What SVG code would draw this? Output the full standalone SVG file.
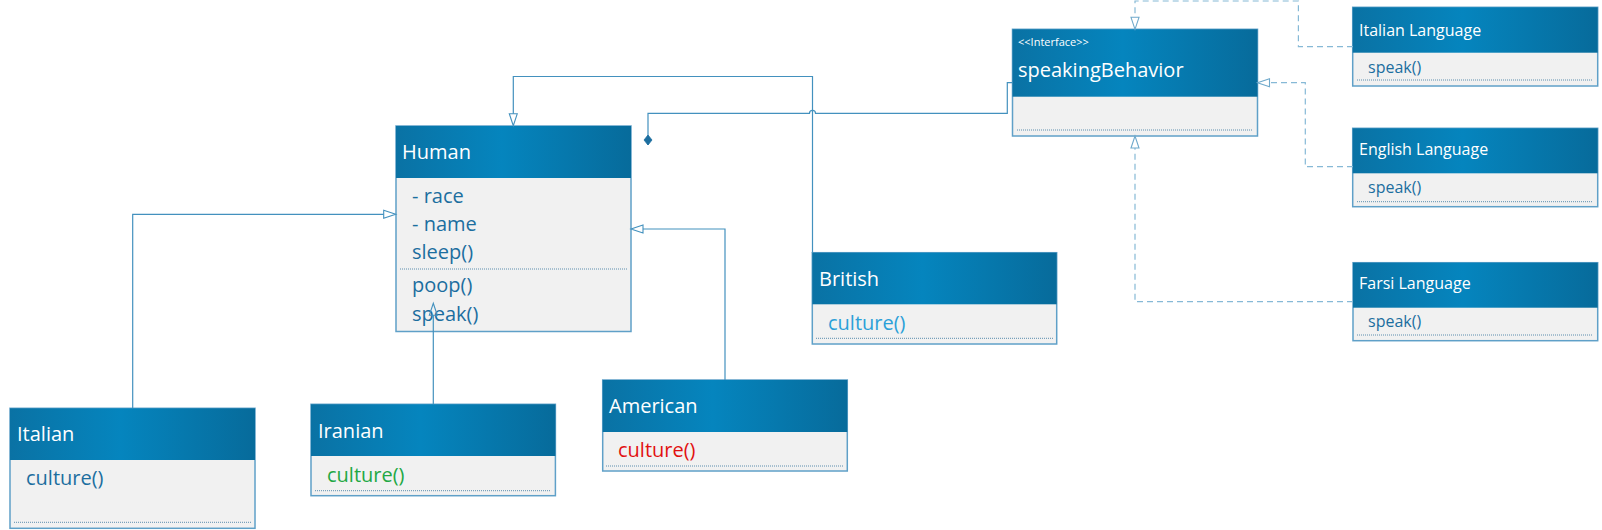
<svg xmlns="http://www.w3.org/2000/svg" width="1602" height="530" viewBox="0 0 1602 530">
<defs>
<linearGradient id="hdr" x1="0" y1="0" x2="1" y2="0">
<stop offset="0" stop-color="#0A72A4"/>
<stop offset="0.45" stop-color="#0585BE"/>
<stop offset="1" stop-color="#076B9B"/>
</linearGradient>
<marker id="tri" markerUnits="userSpaceOnUse" markerWidth="14" markerHeight="10" refX="0" refY="4.5" orient="auto" overflow="visible">
<path d="M0,0.5 L12,4.5 L0,8.5 Z" fill="none" stroke="#4391BE" stroke-width="1.1" stroke-dasharray="none"/>
</marker>
<marker id="triD" markerUnits="userSpaceOnUse" markerWidth="14" markerHeight="10" refX="0" refY="4.5" orient="auto" overflow="visible">
<path d="M0,0.5 L12,4.5 L0,8.5 Z" fill="none" stroke="#6FA9CB" stroke-width="1.1" stroke-dasharray="none"/>
</marker>
<marker id="dia" markerUnits="userSpaceOnUse" markerWidth="12" markerHeight="10" refX="0" refY="4" orient="auto" overflow="visible">
<path d="M0,4 L5,0 L10,4 L5,8 Z" fill="#1C6E9F" stroke="#1C6E9F" stroke-width="0.8"/>
</marker>
</defs>
<style>
.body{fill:#F1F1F1;stroke:#5FA0C8;stroke-width:1.5}
.head{fill:url(#hdr)}
.sep{stroke:#5C8EAE;stroke-width:1;stroke-dasharray:1 1;fill:none}
.t{font-family:"Open Sans","Noto Sans","DejaVu Sans",sans-serif}
.name{font-size:20px;fill:#FFFFFF}
.small{font-size:16px;fill:#FFFFFF}
.stereo{font-size:11px;fill:#FFFFFF}
.m{font-size:20px;fill:#1C6E9F}
.ms{font-size:16px;fill:#1C6E9F}
.conn{fill:none;stroke:#4391BE;stroke-width:1.2}
.dash{fill:none;stroke:#86B9D6;stroke-width:1.2;stroke-dasharray:6 4}
</style>

<g id="human">
<rect class="body" x="396" y="126" width="235" height="205.5"/>
<rect class="head" x="396" y="126" width="235" height="52"/>
<text class="t name" x="402" y="159">Human</text>
<text class="t m" x="412" y="202.7">- race</text>
<text class="t m" x="412" y="230.7">- name</text>
<text class="t m" x="412" y="259">sleep()</text>
<line class="sep" x1="400" y1="269" x2="627" y2="269"/>
<text class="t m" x="412" y="292">poop()</text>
<text class="t m" x="412" y="320.7">speak()</text>
</g>

<g id="speakingBehavior">
<rect class="body" x="1012.5" y="29.3" width="245" height="106.7"/>
<rect class="head" x="1012.5" y="29.3" width="245" height="67.4"/>
<text class="t stereo" x="1018" y="46">&lt;&lt;Interface&gt;&gt;</text>
<text class="t name" x="1018" y="77">speakingBehavior</text>
<line class="sep" x1="1017" y1="130" x2="1253" y2="130"/>
</g>

<g id="british">
<rect class="body" x="812.3" y="252.7" width="244.4" height="91.3"/>
<rect class="head" x="812.3" y="252.7" width="244.4" height="51.6"/>
<text class="t name" x="819" y="286">British</text>
<text class="t m" x="828" y="330" style="fill:#2CA0D8">culture()</text>
<line class="sep" x1="816" y1="338.3" x2="1053" y2="338.3"/>
</g>

<g id="american">
<rect class="body" x="602.7" y="380" width="244.6" height="91"/>
<rect class="head" x="602.7" y="380" width="244.6" height="52"/>
<text class="t name" x="609" y="413">American</text>
<text class="t m" x="618" y="457" style="fill:#E21010">culture()</text>
<line class="sep" x1="606" y1="466" x2="843" y2="466"/>
</g>

<g id="iranian">
<rect class="body" x="311" y="404.3" width="244.4" height="91.4"/>
<rect class="head" x="311" y="404.3" width="244.4" height="51.7"/>
<text class="t name" x="318" y="438">Iranian</text>
<text class="t m" x="327" y="482" style="fill:#22A844">culture()</text>
<line class="sep" x1="315" y1="490.7" x2="551" y2="490.7"/>
</g>

<g id="italian">
<rect class="body" x="10" y="408.3" width="245" height="120"/>
<rect class="head" x="10" y="408.3" width="245" height="51.7"/>
<text class="t name" x="17" y="441">Italian</text>
<text class="t m" x="26" y="485">culture()</text>
<line class="sep" x1="14" y1="522.3" x2="251" y2="522.3"/>
</g>

<g id="italianLanguage">
<rect class="body" x="1352.7" y="7.3" width="245" height="78.7"/>
<rect class="head" x="1352.7" y="7.3" width="245" height="45.4"/>
<text class="t small" x="1359" y="36">Italian Language</text>
<text class="t ms" x="1368" y="72.5">speak()</text>
<line class="sep" x1="1357" y1="80" x2="1593" y2="80"/>
</g>

<g id="englishLanguage">
<rect class="body" x="1352.7" y="128.3" width="245" height="78.4"/>
<rect class="head" x="1352.7" y="128.3" width="245" height="45"/>
<text class="t small" x="1359" y="155">English Language</text>
<text class="t ms" x="1368" y="193.3">speak()</text>
<line class="sep" x1="1357" y1="201.7" x2="1593" y2="201.7"/>
</g>

<g id="farsiLanguage">
<rect class="body" x="1353" y="262.7" width="244.7" height="78"/>
<rect class="head" x="1353" y="262.7" width="244.7" height="45"/>
<text class="t small" x="1359" y="289">Farsi Language</text>
<text class="t ms" x="1368" y="327.3">speak()</text>
<line class="sep" x1="1357" y1="335" x2="1593" y2="335"/>
</g>

<g id="connectors">
<path class="conn" d="M812.5,253 V76.5 H513.3 V113.7" marker-end="url(#tri)"/>
<path class="conn" d="M132.7,408 V214.3 H383.7" marker-end="url(#tri)"/>
<path class="conn" d="M725,380 V229 H643" marker-end="url(#tri)"/>
<path class="conn" d="M433.3,404 V315.3" marker-end="url(#tri)"/>
<path class="conn" d="M648,145 V113.3 H809.5 A3,3 0 0 1 815.5,113.3 H1007.3 V82.7 H1012.5" marker-start="url(#dia)"/>
<path class="dash" d="M1353,46.7 H1298.4 V1 H1135 V17.3" marker-end="url(#triD)"/>
<path class="dash" d="M1353,166.7 H1305.3 V82.7 H1269.5" marker-end="url(#triD)"/>
<path class="dash" d="M1353,301.7 H1135 V148" marker-end="url(#triD)"/>
</g>
</svg>
